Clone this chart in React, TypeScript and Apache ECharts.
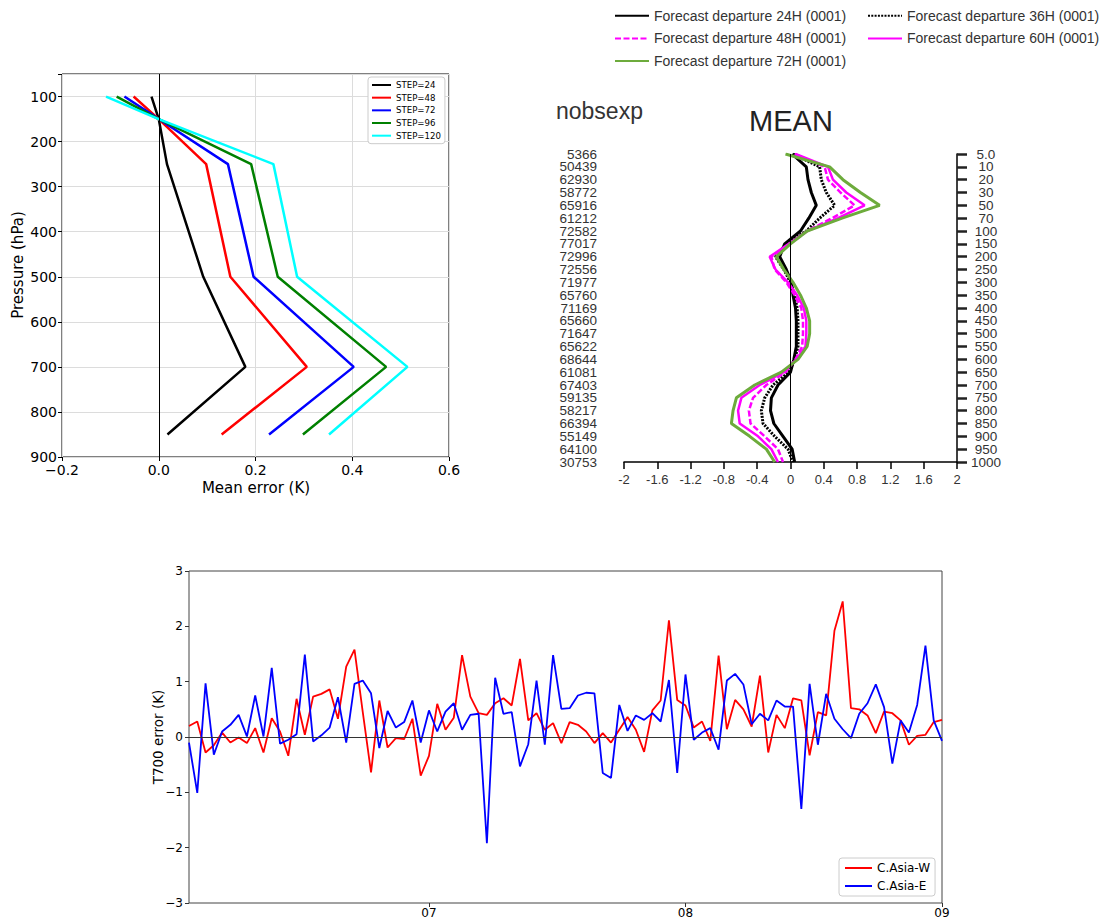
import React, { useEffect, useRef } from 'react';
import * as echarts from 'echarts';

// ---------- Panel 1: mean error profiles ----------
const profLevels = [100, 150, 250, 500, 700, 850];
const step24 = [-0.015, 0.0, 0.017, 0.092, 0.179, 0.018];
const step48 = [-0.052, 0.0, 0.098, 0.148, 0.306, 0.13];
const step72 = [-0.071, 0.0, 0.143, 0.196, 0.403, 0.228];
const step96 = [-0.087, 0.0, 0.191, 0.246, 0.47, 0.298];
const step120 = [-0.109, 0.0, 0.237, 0.286, 0.514, 0.352];
const stepNames = ['STEP=24', 'STEP=48', 'STEP=72', 'STEP=96', 'STEP=120'];
const stepColors = ['#000000', '#ff0000', '#0000ff', '#008000', '#00ffff'];

// ---------- Panel 2: forecast departure MEAN ----------
const levelLabels = ['5.0', '10', '20', '30', '50', '70', '100', '150', '200', '250', '300', '350', '400', '450', '500', '550', '600', '650', '700', '750', '800', '850', '900', '950', '1000'];
const nobsLabels = ['5366', '50439', '62930', '58772', '65916', '61212', '72582', '77017', '72996', '72556', '71977', '65760', '71169', '65660', '71647', '65622', '68644', '61081', '67403', '59135', '58217', '66394', '55149', '64100', '30753'];
const fd24 = [0.02, 0.19, 0.21, 0.25, 0.31, 0.22, 0.12, -0.07, -0.13, -0.05, 0.01, 0.03, 0.06, 0.07, 0.07, 0.07, 0.04, 0.0, -0.15, -0.23, -0.24, -0.2, -0.09, 0.02, 0.05];
const fd36 = [0.03, 0.35, 0.37, 0.43, 0.53, 0.35, 0.19, -0.05, -0.18, -0.08, 0.0, 0.05, 0.08, 0.09, 0.09, 0.09, 0.05, -0.02, -0.21, -0.31, -0.35, -0.33, -0.19, -0.03, 0.03];
const fd48 = [0.05, 0.41, 0.45, 0.6, 0.77, 0.5, 0.2, 0.0, -0.23, -0.19, -0.05, 0.05, 0.13, 0.15, 0.15, 0.14, 0.06, -0.06, -0.29, -0.45, -0.5, -0.48, -0.31, -0.15, -0.09];
const fd60 = [0.06, 0.45, 0.51, 0.67, 0.89, 0.57, 0.2, -0.02, -0.25, -0.18, -0.03, 0.08, 0.16, 0.19, 0.19, 0.18, 0.07, -0.08, -0.37, -0.59, -0.63, -0.61, -0.39, -0.23, -0.15];
const fd72 = [-0.06, 0.47, 0.63, 0.84, 1.07, 0.62, 0.2, 0.0, -0.17, -0.08, 0.03, 0.12, 0.19, 0.23, 0.23, 0.2, 0.09, -0.11, -0.43, -0.65, -0.69, -0.71, -0.49, -0.29, -0.19];
const fdNames = [
  'Forecast departure 24H (0001)',
  'Forecast departure 36H (0001)',
  'Forecast departure 48H (0001)',
  'Forecast departure 60H (0001)',
  'Forecast departure 72H (0001)',
];

// ---------- Panel 3: T700 error time series (daily, Jun 2 .. Sep 1) ----------
const monthTicks = [29, 60, 91];
const monthLabels = ['07', '08', '09'];
const casiaW = [
  0.2, 0.28, -0.28, -0.15, 0.08, -0.1, -0.01, -0.11, 0.16, -0.28,
  0.34, 0.1, -0.34, 0.69, 0.04, 0.73, 0.78, 0.86, 0.33, 1.27,
  1.58, 0.45, -0.64, 0.66, -0.19, -0.02, -0.04, 0.33, -0.7, -0.34,
  0.6, 0.13, 0.35, 1.48, 0.73, 0.43, 0.4, 0.61, 0.7, 0.57,
  1.41, 0.3, 0.43, 0.13, 0.25, -0.11, 0.27, 0.22, 0.1, -0.11,
  0.07, -0.1, 0.13, 0.36, 0.13, -0.27, 0.48, 0.66, 2.11, 0.67,
  0.57, 0.17, 0.28, -0.07, 1.47, 0.14, 0.67, 0.5, 0.19, 1.11,
  -0.28, 0.4, 0.16, 0.7, 0.66, -0.33, 0.45, 0.39, 1.92, 2.45,
  0.52, 0.5, 0.39, 0.07, 0.46, 0.43, 0.3, -0.14, 0.02, 0.04,
  0.27, 0.31,
];
const casiaE = [
  -0.1, -1.01, 0.97, -0.32, 0.1, 0.22, 0.4, 0.01, 0.75, 0.01,
  1.25, -0.12, -0.05, 0.05, 1.49, -0.08, 0.03, 0.17, 0.72, -0.1,
  0.96, 1.02, 0.79, -0.2, 0.47, 0.17, 0.27, 0.66, -0.1, 0.48,
  0.1, 0.46, 0.61, 0.13, 0.4, 0.42, -1.92, 1.07, 0.42, 0.45,
  -0.53, -0.13, 1.02, -0.14, 1.48, 0.51, 0.52, 0.75, 0.8, 0.79,
  -0.65, -0.74, 0.58, 0.11, 0.39, 0.31, 0.43, 0.28, 1.03, -0.65,
  1.13, -0.05, 0.08, 0.16, -0.23, 1.02, 1.14, 0.95, 0.23, 0.42,
  0.3, 0.66, 0.55, 0.55, -1.3, 0.96, -0.14, 0.78, 0.33, 0.14,
  -0.02, 0.42, 0.61, 0.95, 0.54, -0.48, 0.3, 0.08, 0.58, 1.65,
  0.3, -0.07,
];

const DV = 'DejaVu Sans';
const LS = 'Liberation Sans';

function uminus(v: number, digits?: number): string {
  const s = digits === undefined ? String(Math.abs(v)) : Math.abs(v).toFixed(digits);
  return (v < 0 ? '\u2212' : '') + s;
}

const hiddenSymbol = { color: 'transparent', borderColor: 'transparent', borderWidth: 0, opacity: 0 };

function buildOption(): any {
  const stepData = [step24, step48, step72, step96, step120];
  const stepSeries = stepData.map((arr, i) => ({
    type: 'line',
    name: stepNames[i],
    xAxisIndex: 0,
    yAxisIndex: 0,
    data: arr.map((x, j) => [x, profLevels[j]]),
    symbol: 'none',
    lineStyle: { color: stepColors[i], width: 2.5 },
    itemStyle: { color: stepColors[i] },
    z: 3,
    ...(i === 0
      ? {
          markLine: {
            silent: true,
            symbol: 'none',
            label: { show: false },
            lineStyle: { color: '#000', width: 1, type: 'solid' },
            data: [{ xAxis: 0 }],
          },
        }
      : {}),
  }));

  const fdData = [fd24, fd36, fd48, fd60, fd72];
  const fdStyles = [
    { color: '#000000', width: 3, type: 'solid' },
    { color: '#000000', width: 3, type: [2, 1.3] },
    { color: '#ff00ff', width: 2.5, type: [6, 2.5] },
    { color: '#ff00ff', width: 2.5, type: 'solid' },
    { color: '#6dab3c', width: 3, type: 'solid' },
  ];
  const fdSeries = fdData.map((arr, i) => ({
    type: 'line',
    name: fdNames[i],
    xAxisIndex: 1,
    yAxisIndex: 1,
    data: arr.map((x, j) => [x, j]),
    symbol: 'none',
    lineStyle: { ...fdStyles[i], cap: 'butt' },
    itemStyle: { color: fdStyles[i].color },
    z: 3,
    ...(i === 0
      ? {
          markLine: {
            silent: true,
            symbol: 'none',
            label: { show: false },
            lineStyle: { color: '#000', width: 1, type: 'solid' },
            data: [{ xAxis: 0 }],
          },
        }
      : {}),
  }));

  const tsSeries = [
    {
      type: 'line',
      name: 'C.Asia-W',
      xAxisIndex: 2,
      yAxisIndex: 3,
      data: casiaW.map((v, k) => [k, v]),
      symbol: 'none',
      lineStyle: { color: '#ff0000', width: 1.8 },
      itemStyle: { color: '#ff0000' },
      markLine: {
        silent: true,
        symbol: 'none',
        label: { show: false },
        lineStyle: { color: '#333', width: 1, type: 'solid' },
        data: [{ yAxis: 0 }],
      },
    },
    {
      type: 'line',
      name: 'C.Asia-E',
      xAxisIndex: 2,
      yAxisIndex: 3,
      data: casiaE.map((v, k) => [k, v]),
      symbol: 'none',
      lineStyle: { color: '#0000ff', width: 1.8 },
      itemStyle: { color: '#0000ff' },
    },
  ];

  return {
    animation: false,
    backgroundColor: '#ffffff',
    grid: [
      { left: 62, top: 74, width: 387, height: 383, show: true, borderColor: '#000', borderWidth: 1, backgroundColor: 'transparent' },
      { left: 624, top: 154, width: 333, height: 308, show: false },
      { left: 189, top: 571, width: 753, height: 332, show: true, borderColor: '#444', borderWidth: 1, backgroundColor: 'transparent' },
    ],
    xAxis: [
      {
        gridIndex: 0, type: 'value', min: -0.2, max: 0.6, interval: 0.2,
        axisLine: { show: false, onZero: false },
        axisTick: { show: true, length: 4, lineStyle: { color: '#000' } },
        axisLabel: { fontFamily: DV, fontSize: 14, color: '#000', margin: 6, formatter: (v: number) => uminus(v, 1) },
        splitLine: { show: true, lineStyle: { color: '#dcdcdc', width: 1 } },
      },
      {
        gridIndex: 1, type: 'value', min: -2, max: 2, interval: 0.4,
        axisLine: { show: true, onZero: false, lineStyle: { color: '#000', width: 1.5 } },
        axisTick: { show: true, length: 7, lineStyle: { color: '#000', width: 1.5 } },
        axisLabel: { fontFamily: LS, fontSize: 13, color: '#333', margin: 11 },
        splitLine: { show: false },
      },
      {
        gridIndex: 2, type: 'value', min: 0, max: 91,
        axisLine: { show: false, onZero: false },
        axisTick: { show: true, length: 4, customValues: monthTicks, lineStyle: { color: '#333' } },
        axisLabel: {
          customValues: monthTicks,
          fontFamily: DV, fontSize: 12, color: '#000', margin: 4,
          formatter: (v: number) => {
            const i = monthTicks.indexOf(v);
            return i >= 0 ? monthLabels[i] : '';
          },
        },
        splitLine: { show: false },
      },
    ],
    yAxis: [
      {
        gridIndex: 0, type: 'value', min: 50, max: 900, splitNumber: 9, inverse: true,
        axisLine: { show: false, onZero: false },
        axisTick: { show: true, length: 4, lineStyle: { color: '#000' } },
        axisLabel: { fontFamily: DV, fontSize: 14, color: '#000', margin: 5, formatter: (v: number) => (v % 100 === 0 ? String(v) : '') },
        splitLine: { show: true, lineStyle: { color: '#dcdcdc', width: 1 } },
      },
      {
        gridIndex: 1, type: 'category', data: nobsLabels, inverse: true, boundaryGap: false, position: 'left',
        axisLine: { show: false, onZero: false },
        axisTick: { show: false },
        axisLabel: { fontFamily: LS, fontSize: 13.5, lineHeight: 12, color: '#333', margin: 27, interval: 0 },
        splitLine: { show: false },
      },
      {
        gridIndex: 1, type: 'category', data: levelLabels, inverse: true, boundaryGap: false, position: 'right',
        axisLine: { show: true, onZero: false, lineStyle: { color: '#000', width: 1.5 } },
        axisTick: { show: true, length: 10, interval: 0, lineStyle: { color: '#222', width: 2.5 } },
        axisLabel: { fontFamily: LS, fontSize: 13.5, lineHeight: 12, color: '#333', margin: 29, align: 'center', interval: 0 },
        splitLine: { show: false },
      },
      {
        gridIndex: 2, type: 'value', min: -3, max: 3, interval: 1,
        axisLine: { show: false, onZero: false },
        axisTick: { show: true, length: 4, lineStyle: { color: '#333' } },
        axisLabel: { fontFamily: DV, fontSize: 12, color: '#000', margin: 6, formatter: (v: number) => uminus(v) },
        splitLine: { show: false },
      },
    ],
    legend: [
      {
        data: stepNames, orient: 'vertical', left: 368, top: 77, padding: [3, 4, 3, 3],
        itemWidth: 19, itemHeight: 10, itemGap: 2.67, selectedMode: false,
        itemStyle: hiddenSymbol,
        backgroundColor: '#fff', borderColor: '#cccccc', borderWidth: 1, borderRadius: 3,
        textStyle: { fontFamily: DV, fontSize: 8.6, color: '#000', lineHeight: 10 },
      },
      {
        data: [fdNames[0], fdNames[2], fdNames[4]], orient: 'vertical', left: 614, top: 7.7, padding: 0,
        itemWidth: 34, itemHeight: 10, itemGap: 6.7, selectedMode: false,
        itemStyle: hiddenSymbol,
        textStyle: { fontFamily: LS, fontSize: 14, color: '#333', lineHeight: 16 },
      },
      {
        data: [fdNames[1], fdNames[3]], orient: 'vertical', left: 867, top: 7.7, padding: 0,
        itemWidth: 34, itemHeight: 10, itemGap: 6.7, selectedMode: false,
        itemStyle: hiddenSymbol,
        textStyle: { fontFamily: LS, fontSize: 14, color: '#333', lineHeight: 16 },
      },
      {
        data: ['C.Asia-W', 'C.Asia-E'], orient: 'vertical', left: 839, top: 858, padding: [3, 5, 3, 5],
        itemWidth: 27, itemHeight: 10, itemGap: 4, selectedMode: false,
        itemStyle: hiddenSymbol,
        backgroundColor: '#fff', borderColor: '#cccccc', borderWidth: 1, borderRadius: 3,
        textStyle: { fontFamily: DV, fontSize: 12, color: '#000', lineHeight: 14 },
      },
    ],
    graphic: [
      {
        type: 'text', x: 18, y: 265, rotation: Math.PI / 2,
        style: { text: 'Pressure (hPa)', font: `15px "${DV}"`, fill: '#000', textAlign: 'center', textVerticalAlign: 'middle', align: 'center', verticalAlign: 'middle' },
      },
      {
        type: 'text', x: 256, y: 488,
        style: { text: 'Mean error (K)', font: `15px "${DV}"`, fill: '#000', textAlign: 'center', textVerticalAlign: 'middle', align: 'center', verticalAlign: 'middle' },
      },
      {
        type: 'text', x: 556, y: 111,
        style: { text: 'nobsexp', font: `23px "${LS}"`, fill: '#333', textAlign: 'left', textVerticalAlign: 'middle', align: 'left', verticalAlign: 'middle' },
      },
      {
        type: 'text', x: 791, y: 121,
        style: { text: 'MEAN', font: `29px "${LS}"`, fill: '#222', textAlign: 'center', textVerticalAlign: 'middle', align: 'center', verticalAlign: 'middle' },
      },
      {
        type: 'text', x: 158, y: 737, rotation: Math.PI / 2,
        style: { text: 'T700 error (K)', font: `13.5px "${DV}"`, fill: '#000', textAlign: 'center', textVerticalAlign: 'middle', align: 'center', verticalAlign: 'middle' },
      },
    ],
    series: [...stepSeries, ...fdSeries, ...tsSeries],
  };
}

export default function App() {
  const ref = useRef<HTMLDivElement>(null);
  useEffect(() => {
    if (!ref.current) return;
    const chart = echarts.init(ref.current, null, { renderer: 'svg' });
    chart.setOption(buildOption());
    return () => {
      chart.dispose();
    };
  }, []);
  return (
    <div
      ref={ref}
      style={{ position: 'absolute', left: 0, top: 0, width: 1102, height: 920, background: '#fff' }}
    />
  );
}
